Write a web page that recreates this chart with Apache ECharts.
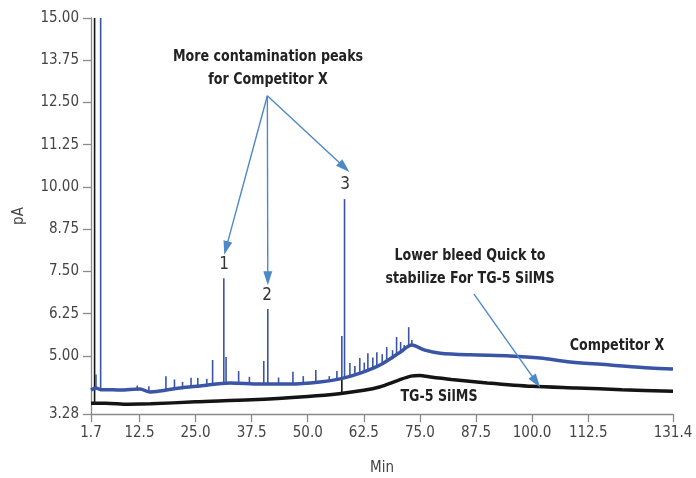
<!DOCTYPE html>
<html>
<head>
<meta charset="utf-8">
<script src="https://cdn.jsdelivr.net/npm/echarts@6/dist/echarts.min.js"></script>
<style>
  html, body { margin: 0; padding: 0; background: #fff; }
  #chart { width: 696px; height: 478px; }
</style>
</head>
<body>
<div id="chart"></div>
<script>
// x ticks (min) and y ticks (pA)
var xTicks = [1.7, 12.5, 25.0, 37.5, 50.0, 62.5, 75.0, 87.5, 100.0, 112.5, 131.4];
var yTicks = [3.28, 5.00, 6.25, 7.50, 8.75, 10.00, 11.25, 12.50, 13.75, 15.00];

// Competitor X baseline trace
var blueX = [1.7, 2.8, 3.85, 5, 8.2, 12.6, 14.8, 17.1, 21.5, 26.0, 32.7, 39.4, 46.1, 52.7, 57.2, 61.7, 66.1, 70.6, 73.2, 76.1, 79.5, 86.2, 95.1, 101.8, 108.5, 117.4, 126.3, 131.4];
var blueY = [3.99, 4.05, 4.00, 4.00, 3.99, 4.02, 3.93, 3.96, 4.05, 4.11, 4.20, 4.17, 4.17, 4.23, 4.32, 4.49, 4.73, 5.11, 5.32, 5.17, 5.08, 5.03, 5.00, 4.94, 4.82, 4.73, 4.64, 4.61];

// Competitor X peaks: position, foot, top
var bluePeakX    = [2.8, 3.85, 12.0, 14.6, 18.4, 20.3, 22.1, 24.0, 25.5, 27.5, 28.8, 31.3, 31.8, 34.6, 37.0, 40.2, 41.1, 43.5, 46.7, 49.0, 51.8, 54.8, 56.5, 57.6, 58.2, 59.4, 60.5, 61.6, 62.6, 63.4, 64.5, 65.4, 66.6, 67.6, 68.9, 69.8, 70.7, 71.5, 72.5, 73.2];
var bluePeakBase = [4.00, 4.00, 3.99, 3.94, 3.98, 4.02, 4.06, 4.08, 4.10, 4.13, 4.15, 4.18, 4.18, 4.19, 4.18, 4.17, 4.17, 4.17, 4.17, 4.19, 4.22, 4.27, 4.30, 4.33, 4.35, 4.39, 4.43, 4.48, 4.53, 4.58, 4.64, 4.69, 4.76, 4.82, 4.90, 5.00, 5.10, 5.18, 5.25, 5.30];
var bluePeakTop  = [4.45, 15.00, 4.12, 4.10, 4.40, 4.30, 4.23, 4.35, 4.35, 4.32, 4.88, 7.30, 4.97, 4.55, 4.38, 4.85, 6.39, 4.36, 4.53, 4.40, 4.58, 4.40, 4.55, 5.59, 9.64, 4.79, 4.70, 4.94, 4.80, 5.08, 4.95, 5.11, 5.05, 5.26, 5.17, 5.56, 5.41, 5.32, 5.85, 5.47];

// TG-5 SilMS trace
var blackX = [1.7, 5, 10, 15, 25, 37.5, 50, 57, 62.5, 66, 70, 73, 75, 77, 82, 90, 100, 110, 120, 131.4];
var blackY = [3.60, 3.60, 3.57, 3.58, 3.64, 3.70, 3.80, 3.88, 3.98, 4.08, 4.27, 4.40, 4.42, 4.38, 4.30, 4.20, 4.10, 4.05, 4.00, 3.95];
var blackPeakX    = [2.5, 57.6];
var blackPeakBase = [3.60, 3.88];
var blackPeakTop  = [15.00, 4.30];

var BLUE = '#3a54a6';
var BLACK = '#141414';
var ARROW = '#4d88c9';
var FONT = "'Liberation Sans Narrow', 'DejaVu Sans Condensed', 'Roboto', sans-serif";

function zip(xs, ys) { return xs.map(function (x, i) { return [x, ys[i]]; }); }
function peaks(xs, b, t) { return xs.map(function (x, i) { return [x, b[i], t[i]]; }); }

function spikeSeries(name, data, color) {
  return {
    name: name,
    type: 'custom',
    silent: true,
    data: data,
    encode: { x: 0, y: [1, 2] },
    renderItem: function (params, api) {
      var p0 = api.coord([api.value(0), api.value(1)]);
      var p1 = api.coord([api.value(0), api.value(2)]);
      return {
        type: 'line',
        shape: { x1: p0[0], y1: p0[1], x2: p1[0], y2: p1[1] },
        style: { stroke: color, lineWidth: 1.6 }
      };
    }
  };
}

function note(x, y, text, bold) {
  return {
    type: 'text', x: x, y: y,
    scaleX: bold ? 0.88 : 1,
    style: {
      text: text, align: 'center', verticalAlign: 'middle',
      fill: bold ? '#222' : '#333',
      font: (bold ? 'bold 16px ' : '17px ') + FONT,
      lineHeight: 23
    }
  };
}

var chart = echarts.init(document.getElementById('chart'));

var option = {
  animation: false,
  grid: { left: 91, right: 23, top: 18, bottom: 64, outerBoundsMode: 'none', containLabel: false },
  xAxis: {
    type: 'value',
    min: 1.7,
    max: 131.4,
    name: 'Min',
    nameLocation: 'middle',
    nameGap: 47,
    nameTextStyle: { color: '#444', fontSize: 15, fontFamily: FONT },
    axisLine: { show: true, lineStyle: { color: '#8a8a8a', width: 1.3 } },
    axisTick: { show: true, length: 8, customValues: xTicks, lineStyle: { color: '#8a8a8a', width: 1.3 } },
    axisLabel: {
      customValues: xTicks,
      color: '#444', fontSize: 15, fontFamily: FONT, margin: 12,
      formatter: function (v) { return v.toFixed(1); }
    },
    splitLine: { show: false }
  },
  yAxis: {
    type: 'value',
    min: 3.28,
    max: 15,
    name: 'pA',
    nameLocation: 'middle',
    nameGap: 64,
    nameRotate: 90,
    nameTextStyle: { color: '#444', fontSize: 15, fontFamily: FONT },
    axisLine: { show: true, lineStyle: { color: '#8a8a8a', width: 1.3 } },
    axisTick: { show: true, length: 8, customValues: yTicks, lineStyle: { color: '#8a8a8a', width: 1.3 } },
    axisLabel: {
      customValues: yTicks,
      color: '#444', fontSize: 15, fontFamily: FONT, margin: 12,
      formatter: function (v) { return v.toFixed(2); }
    },
    splitLine: { show: false }
  },
  series: [
    {
      name: 'TG-5 SilMS',
      type: 'line',
      data: zip(blackX, blackY),
      showSymbol: false,
      smooth: 0.3,
      lineStyle: { color: BLACK, width: 3.5 },
      z: 3
    },
    spikeSeries('TG-5 SilMS peaks', peaks(blackPeakX, blackPeakBase, blackPeakTop), BLACK),
    {
      name: 'Competitor X',
      type: 'line',
      data: zip(blueX, blueY),
      showSymbol: false,
      smooth: 0.3,
      lineStyle: { color: BLUE, width: 3.5 },
      z: 4,
      markLine: {
        silent: true,
        symbol: ['none', 'triangle'],
        symbolSize: [9, 14],
        label: { show: false },
        lineStyle: { color: ARROW, width: 1.4, type: 'solid' },
        data: [
          [{ coord: [41.0, 12.70] }, { coord: [31.8, 8.19] }],
          [{ coord: [41.0, 12.70] }, { coord: [41.1, 7.30] }],
          [{ coord: [41.0, 12.70] }, { coord: [58.15, 10.58] }],
          [{ coord: [87.06, 6.83] }, { coord: [100.9, 4.23] }]
        ]
      }
    },
    spikeSeries('Competitor X peaks', peaks(bluePeakX, bluePeakBase, bluePeakTop), BLUE)
  ],
  graphic: [
    note(268, 68, 'More contamination peaks\nfor Competitor X', true),
    note(224, 265, '1', false),
    note(267, 296, '2', false),
    note(345, 185, '3', false),
    note(470, 267, 'Lower bleed Quick to\nstabilize For TG-5 SilMS', true),
    note(617, 346, 'Competitor X', true),
    note(439, 397, 'TG-5 SilMS', true)
  ]
};

chart.setOption(option);
</script>
</body>
</html>
